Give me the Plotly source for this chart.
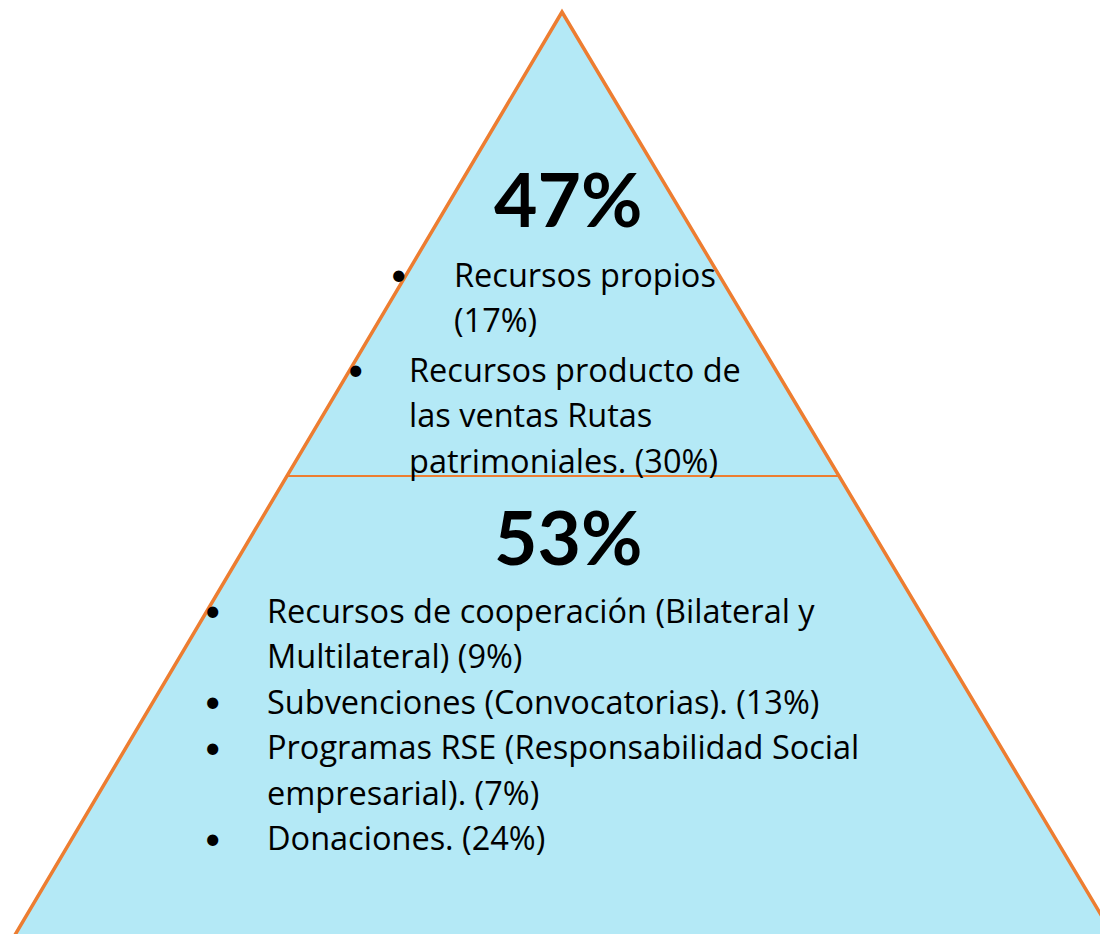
import plotly.graph_objects as go

# Data
totals = ["47%", "53%"]
upper_items = [["Recursos propios", "(17%)"],
               ["Recursos producto de", "las ventas Rutas", "patrimoniales. (30%)"]]
lower_items = [["Recursos de cooperación (Bilateral y", "Multilateral) (9%)"],
               ["Subvenciones (Convocatorias). (13%)"],
               ["Programas RSE (Responsabilidad Social", "empresarial). (7%)"],
               ["Donaciones. (24%)"]]

W, H = 1100, 934
FILL = "#B4E9F6"
EDGE = "#ED7D31"
FONT = "Open Sans"
BIG_FONT = "Lato"
FS = 32.5

apex = (562, 12)
base_y = 934
slope = 0.594
left_base = apex[0] - slope * (base_y - apex[1])
right_base = apex[0] + slope * (base_y - apex[1]) + 4
div_y = 476
div_l = apex[0] - slope * (div_y - apex[1])
div_r = apex[0] + slope * (div_y - apex[1]) + 2

fig = go.Figure()
fig.add_trace(go.Scatter(x=[left_base, apex[0], right_base, left_base],
                         y=[base_y + 2, apex[1], base_y + 2, base_y + 2],
                         mode="lines", fill="toself", fillcolor=FILL,
                         line=dict(color=EDGE, width=3.5), hoverinfo="skip"))
fig.add_trace(go.Scatter(x=[div_l, div_r], y=[div_y, div_y], mode="lines",
                         line=dict(color=EDGE, width=2), hoverinfo="skip"))

ann = []
ann.append(dict(x=568, y=198, text="<b>" + totals[0] + "</b>", showarrow=False,
                xanchor="center", yanchor="middle",
                font=dict(family=BIG_FONT, size=75, color="black")))
ann.append(dict(x=568, y=536, text="<b>" + totals[1] + "</b>", showarrow=False,
                xanchor="center", yanchor="middle",
                font=dict(family=BIG_FONT, size=75, color="black")))

LS = 45.5
BULLET = dict(family=BIG_FONT, size=30, color="black")
# upper list
upper_layout = [(398, 452, 274), (355, 407, 369)]
for (bx, tx, y0), lines in zip(upper_layout, upper_items):
    ann.append(dict(x=bx, y=y0 - 1, text="•", showarrow=False, xanchor="center",
                    yanchor="middle", font=BULLET))
    for i, ln in enumerate(lines):
        ann.append(dict(x=tx, y=y0 + i * LS, text=ln, showarrow=False, xanchor="left",
                        yanchor="middle", font=dict(family=FONT, size=FS, color="black")))

# lower list
y = 610
for lines in lower_items:
    ann.append(dict(x=212, y=y - 1, text="•", showarrow=False, xanchor="center",
                    yanchor="middle", font=BULLET))
    for i, ln in enumerate(lines):
        ann.append(dict(x=265, y=y, text=ln, showarrow=False, xanchor="left",
                        yanchor="middle", font=dict(family=FONT, size=FS, color="black")))
        y += LS

fig.update_layout(width=W, height=H, margin=dict(l=0, r=0, t=0, b=0),
                  paper_bgcolor="white", plot_bgcolor="white", showlegend=False,
                  annotations=ann,
                  xaxis=dict(range=[0, W], visible=False, fixedrange=True),
                  yaxis=dict(range=[H, 0], visible=False, fixedrange=True))
fig.write_html("out.html", config={"displayModeBar": False},
               post_script="document.body.style.margin='0';document.body.style.overflow='hidden';")
